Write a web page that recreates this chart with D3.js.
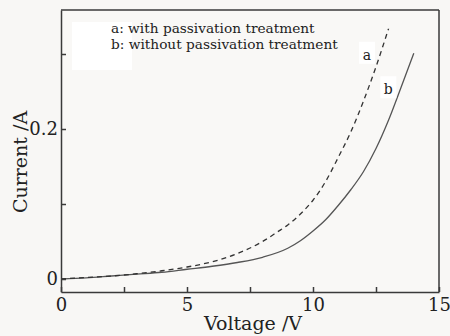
<!DOCTYPE html>
<html>
<head>
<meta charset="utf-8">
<script src="https://cdn.jsdelivr.net/npm/d3@7"></script>
<style>
  html, body { margin: 0; padding: 0; background: #f8f7f5; }
  svg { display: block; }
</style>
</head>
<body>
<figure id="chart" style="margin:0"></figure>
<script>
// Data
const voltageA = [0, 1, 2, 3, 4, 5, 6, 7, 8, 8.6, 9, 9.6, 10, 10.5, 11, 11.5, 12, 12.5, 13];
const currentA = [0, 0.002, 0.004, 0.007, 0.011, 0.016, 0.023, 0.034, 0.05, 0.063, 0.072, 0.09, 0.105, 0.13, 0.162, 0.196, 0.237, 0.283, 0.334];
const voltageB = [0, 1, 2, 3, 4, 5, 6, 7, 8, 9, 9.5, 10, 10.5, 11, 11.5, 12, 12.5, 13, 13.5, 14];
const currentB = [0, 0.0015, 0.004, 0.0065, 0.009, 0.013, 0.017, 0.022, 0.029, 0.041, 0.051, 0.064, 0.079, 0.098, 0.119, 0.143, 0.174, 0.212, 0.256, 0.301];
const xTicks = [0, 5, 10, 15];
const xMinorTicks = [2.5, 7.5, 12.5];
const yTicks = [0, 0.1, 0.2, 0.3];
const yTickLabels = ['0', '', '0.2', ''];
const legendLines = ['a: with passivation treatment', 'b: without passivation treatment'];

const width = 450;
const height = 336;
const margin = {top: 10, right: 11, bottom: 44, left: 61};
const font = '"DejaVu Serif", "Liberation Serif", serif';

const svg = d3.select('figure#chart')
    .append('svg')
    .attr('width', width)
    .attr('height', height);

const x = d3.scaleLinear().domain([0, 15]).range([margin.left, width - margin.right]);
const y = d3.scaleLinear().domain([-0.01733, 0.35867]).range([height - margin.bottom, margin.top]);

// plot area
svg.append('rect')
    .attr('x', margin.left)
    .attr('y', margin.top)
    .attr('width', width - margin.left - margin.right)
    .attr('height', height - margin.top - margin.bottom)
    .attr('fill', '#f9f8f6');

// white patch behind the legend
svg.append('rect')
    .attr('x', 72).attr('y', 22).attr('width', 60).attr('height', 48)
    .attr('fill', '#ffffff');

// axes
const xAxis = svg.append('g')
    .attr('transform', 'translate(0,' + (height - margin.bottom) + ')')
    .call(d3.axisBottom(x).tickValues(xTicks.concat(xMinorTicks)).tickSize(-5).tickSizeOuter(0)
        .tickFormat(d => xTicks.includes(d) ? d : ''));
xAxis.selectAll('text')
    .attr('dy', '0.95em')
    .attr('y', 2)
    .style('font-family', font)
    .style('font-size', '18px')
    .attr('fill', '#222');

const yAxis = svg.append('g')
    .attr('transform', 'translate(' + margin.left + ',0)')
    .call(d3.axisLeft(y).tickValues(yTicks).tickSize(-5).tickSizeOuter(0)
        .tickFormat((d, i) => yTickLabels[i]));
yAxis.selectAll('text')
    .attr('x', -3)
    .style('font-family', font)
    .style('font-size', '18px')
    .attr('fill', '#222');

// top and right borders
svg.append('line')
    .attr('x1', margin.left).attr('x2', width - margin.right)
    .attr('y1', margin.top).attr('y2', margin.top);
svg.append('line')
    .attr('x1', width - margin.right).attr('x2', width - margin.right)
    .attr('y1', margin.top).attr('y2', height - margin.bottom);

svg.selectAll('.domain, .tick line, line')
    .attr('stroke', '#3a3a3a')
    .attr('stroke-width', 1.5);

// curves
const line = d3.line()
    .x(d => x(d[0]))
    .y(d => y(d[1]))
    .curve(d3.curveMonotoneX);

svg.append('path')
    .datum(d3.zip(voltageB, currentB))
    .attr('d', line)
    .attr('fill', 'none')
    .attr('stroke', '#555')
    .attr('stroke-width', 1.3);

svg.append('path')
    .datum(d3.zip(voltageA, currentA))
    .attr('d', line)
    .attr('fill', 'none')
    .attr('stroke', '#333')
    .attr('stroke-width', 1.3)
    .attr('stroke-dasharray', '5,4');

// curve labels
const curveLabels = [
  {text: 'a', v: 12.14, c: 0.299},
  {text: 'b', v: 12.99, c: 0.253},
];
curveLabels.forEach(l => {
  svg.append('rect')
      .attr('x', x(l.v) - 8).attr('y', y(l.c) - 13)
      .attr('width', 16).attr('height', 22)
      .attr('fill', '#ffffff');
  svg.append('text')
      .attr('x', x(l.v))
      .attr('y', y(l.c))
      .attr('text-anchor', 'middle')
      .attr('dy', '0.35em')
      .style('font-family', font)
      .style('font-size', '14px')
      .attr('fill', '#222')
      .text(l.text);
});

// legend
svg.selectAll('.legend')
    .data(legendLines)
    .enter()
    .append('text')
    .attr('x', 111)
    .attr('y', (d, i) => 33 + i * 16)
    .style('font-family', font)
    .style('font-size', '13.7px')
    .attr('fill', '#222')
    .text(d => d);

// axis titles
svg.append('text')
    .attr('x', 253)
    .attr('y', 330)
    .attr('text-anchor', 'middle')
    .style('font-family', font)
    .style('font-size', '19px')
    .attr('fill', '#222')
    .text('Voltage /V');

svg.append('text')
    .attr('transform', 'translate(27,162) rotate(-90)')
    .attr('text-anchor', 'middle')
    .style('font-family', font)
    .style('font-size', '19px')
    .attr('fill', '#222')
    .text('Current /A');
</script>
</body>
</html>
